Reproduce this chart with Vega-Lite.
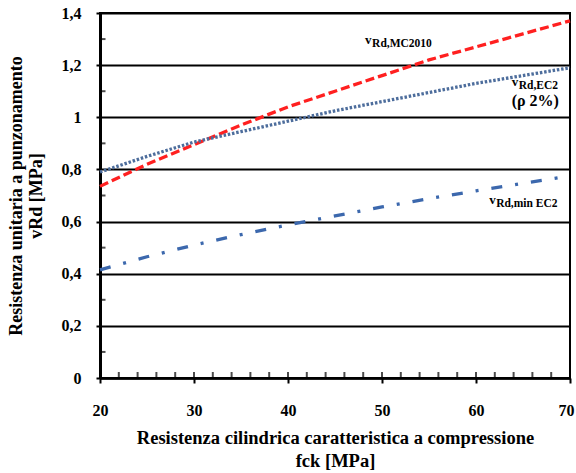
{
  "$schema": "https://vega.github.io/schema/vega-lite/v6.json",
  "width": 470,
  "height": 365,
  "autosize": {"type": "none"},
  "padding": {"left": 100, "top": 13, "right": 6, "bottom": 95},
  "background": "white",
  "config": {
    "view": {"stroke": "black", "strokeWidth": 2},
    "font": "Liberation Serif"
  },
  "datasets": {
    "curves": [
      {"fck": 20, "serie": "MC2010", "v": 0.735},
      {"fck": 25, "serie": "MC2010", "v": 0.82},
      {"fck": 30, "serie": "MC2010", "v": 0.895},
      {"fck": 35, "serie": "MC2010", "v": 0.97},
      {"fck": 40, "serie": "MC2010", "v": 1.04},
      {"fck": 45, "serie": "MC2010", "v": 1.1},
      {"fck": 50, "serie": "MC2010", "v": 1.16},
      {"fck": 55, "serie": "MC2010", "v": 1.22},
      {"fck": 60, "serie": "MC2010", "v": 1.27},
      {"fck": 65, "serie": "MC2010", "v": 1.32},
      {"fck": 70, "serie": "MC2010", "v": 1.37},
      {"fck": 20, "serie": "EC2", "v": 0.79},
      {"fck": 25, "serie": "EC2", "v": 0.85},
      {"fck": 30, "serie": "EC2", "v": 0.905},
      {"fck": 35, "serie": "EC2", "v": 0.945},
      {"fck": 40, "serie": "EC2", "v": 0.985},
      {"fck": 45, "serie": "EC2", "v": 1.025},
      {"fck": 50, "serie": "EC2", "v": 1.06},
      {"fck": 55, "serie": "EC2", "v": 1.095},
      {"fck": 60, "serie": "EC2", "v": 1.13},
      {"fck": 65, "serie": "EC2", "v": 1.16},
      {"fck": 70, "serie": "EC2", "v": 1.19},
      {"fck": 20, "serie": "minEC2", "v": 0.415},
      {"fck": 25, "serie": "minEC2", "v": 0.465},
      {"fck": 30, "serie": "minEC2", "v": 0.51},
      {"fck": 35, "serie": "minEC2", "v": 0.55},
      {"fck": 40, "serie": "minEC2", "v": 0.587},
      {"fck": 45, "serie": "minEC2", "v": 0.622},
      {"fck": 50, "serie": "minEC2", "v": 0.656},
      {"fck": 55, "serie": "minEC2", "v": 0.688},
      {"fck": 60, "serie": "minEC2", "v": 0.718},
      {"fck": 65, "serie": "minEC2", "v": 0.747},
      {"fck": 70, "serie": "minEC2", "v": 0.775}
    ],
    "xMinor": [
      {"fck": 22}, {"fck": 24}, {"fck": 26}, {"fck": 28}, {"fck": 30},
      {"fck": 32}, {"fck": 34}, {"fck": 36}, {"fck": 38}, {"fck": 40},
      {"fck": 42}, {"fck": 44}, {"fck": 46}, {"fck": 48}, {"fck": 50},
      {"fck": 52}, {"fck": 54}, {"fck": 56}, {"fck": 58}, {"fck": 60},
      {"fck": 62}, {"fck": 64}, {"fck": 66}, {"fck": 68}
    ],
    "yMinor": [
      {"v": 0.1}, {"v": 0.3}, {"v": 0.5}, {"v": 0.7}, {"v": 0.9}, {"v": 1.1}, {"v": 1.3}
    ],
    "labels": [
      {"fck": 48.2, "v": 1.297, "main": "v", "sub": "Rd,MC2010", "note": ""},
      {"fck": 63.8, "v": 1.136, "main": "v", "sub": "Rd,EC2", "note": "(ρ 2%)"},
      {"fck": 61.4, "v": 0.683, "main": "v", "sub": "Rd,min EC2", "note": ""}
    ]
  },
  "layer": [
    {
      "data": {"name": "curves"},
      "mark": {"type": "line", "strokeWidth": 3.3, "strokeCap": "butt"},
      "encoding": {
        "x": {
          "field": "fck",
          "type": "quantitative",
          "scale": {"domain": [20, 70], "nice": false, "zero": false},
          "axis": {
            "values": [20, 30, 40, 50, 60, 70],
            "grid": false,
            "domainColor": "black",
            "domainWidth": 2.5,
            "tickColor": "black",
            "tickWidth": 2,
            "tickSize": 5,
            "labelFont": "Liberation Serif",
            "labelFontWeight": "bold",
            "labelFontSize": 16,
            "labelColor": "black",
            "labelPadding": 19,
            "labelFlush": false,
            "labelOffset": {"condition": {"test": "datum.value == 70", "value": -4}, "value": 0},
            "title": ["Resistenza cilindrica caratteristica a compressione", "fck [MPa]"],
            "titleFont": "Liberation Serif",
            "titleFontWeight": "bold",
            "titleFontSize": 18.5,
            "titleColor": "black",
            "titleLineHeight": 23,
            "titlePadding": 10
          }
        },
        "y": {
          "field": "v",
          "type": "quantitative",
          "scale": {"domain": [0, 1.4], "nice": false},
          "axis": {
            "values": [0, 0.2, 0.4, 0.6, 0.8, 1, 1.2, 1.4],
            "labelExpr": "replace(format(datum.value, '.1~f'), '.', ',')",
            "grid": true,
            "gridColor": "black",
            "gridWidth": 2,
            "gridOpacity": 1,
            "domainColor": "black",
            "domainWidth": 3,
            "tickColor": "black",
            "tickWidth": 2,
            "tickSize": 4,
            "labelFont": "Liberation Serif",
            "labelFontWeight": "bold",
            "labelFontSize": 16,
            "labelColor": "black",
            "labelPadding": 15,
            "labelFlush": false,
            "title": ["Resistenza unitaria a punzonamento", "vRd [MPa]"],
            "titleFont": "Liberation Serif",
            "titleFontWeight": "bold",
            "titleFontSize": 18,
            "titleColor": "black",
            "titleLineHeight": 20,
            "titlePadding": 16
          }
        },
        "color": {
          "field": "serie",
          "type": "nominal",
          "scale": {"domain": ["MC2010", "EC2", "minEC2"], "range": ["#ff2020", "#4d6d9c", "#3c68ad"]},
          "legend": null
        },
        "strokeDash": {
          "field": "serie",
          "type": "nominal",
          "scale": {"domain": ["MC2010", "EC2", "minEC2"], "range": [[9, 4], [2.5, 1.8], [11, 13, 3, 13]]},
          "legend": null
        }
      }
    },
    {
      "data": {"name": "xMinor"},
      "mark": {"type": "tick", "orient": "vertical", "size": 6, "thickness": 2, "color": "black", "yOffset": -3},
      "encoding": {
        "x": {"field": "fck", "type": "quantitative"},
        "y": {"datum": 0}
      }
    },
    {
      "data": {"name": "yMinor"},
      "mark": {"type": "tick", "orient": "horizontal", "size": 5, "thickness": 2, "color": "black", "xOffset": 3},
      "encoding": {
        "x": {"datum": 20},
        "y": {"field": "v", "type": "quantitative"}
      }
    },
    {
      "data": {"name": "labels"},
      "mark": {"type": "text", "font": "Liberation Serif", "fontWeight": "bold", "fontSize": 13, "align": "left", "baseline": "middle", "color": "black"},
      "encoding": {
        "x": {"field": "fck", "type": "quantitative"},
        "y": {"field": "v", "type": "quantitative"},
        "text": {"field": "main"}
      }
    },
    {
      "data": {"name": "labels"},
      "mark": {"type": "text", "font": "Liberation Serif", "fontWeight": "bold", "fontSize": 11.5, "align": "left", "baseline": "middle", "color": "black", "dx": 7, "dy": 4},
      "encoding": {
        "x": {"field": "fck", "type": "quantitative"},
        "y": {"field": "v", "type": "quantitative"},
        "text": {"field": "sub"}
      }
    },
    {
      "data": {"name": "labels"},
      "mark": {"type": "text", "font": "Liberation Serif", "fontWeight": "bold", "fontSize": 16, "align": "left", "baseline": "middle", "color": "black", "dy": 19},
      "encoding": {
        "x": {"field": "fck", "type": "quantitative"},
        "y": {"field": "v", "type": "quantitative"},
        "text": {"field": "note"}
      }
    }
  ]
}
